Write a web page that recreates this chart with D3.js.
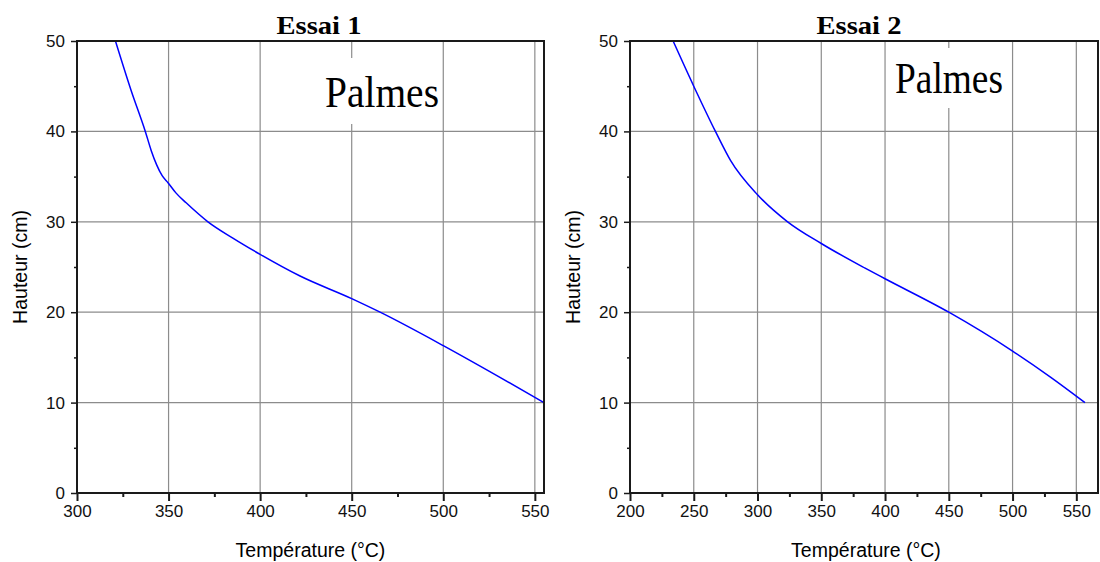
<!DOCTYPE html>
<html>
<head>
<meta charset="utf-8">
<script src="https://cdn.jsdelivr.net/npm/d3@7"></script>
<style>
  body { margin: 0; background: #fff; }
  svg { display: block; }
</style>
</head>
<body>
<svg id="chart" width="1100" height="562"></svg>
<script>
// Essai 1
const temps1 = [321, 329.6, 337.3, 340.5, 343.5, 346.5, 349.8, 354, 359.6, 371.5, 385.1, 400, 421.8, 450, 465.5, 500, 530, 555]
const heights1 = [50, 44.5, 40, 37.9, 36.3, 35.1, 34.3, 33.2, 32.1, 30, 28.2, 26.4, 24.0, 21.5, 20, 16.3, 12.9, 10]
// Essai 2
const temps2 = [233.8, 250, 267, 278.8, 300, 323.6, 350, 384, 400, 450, 500, 530, 556.8]
const heights2 = [50, 45, 40, 36.8, 33, 30, 27.6, 24.9, 23.7, 20, 15.7, 12.8, 10]

const xTicks1 = [300, 350, 400, 450, 500, 550]
const xTicks2 = [200, 250, 300, 350, 400, 450, 500, 550]
const yTicks = [0, 10, 20, 30, 40, 50]
const titles = ['Essai 1', 'Essai 2']
const label = 'Palmes'

const panels = [
    { title: titles[0], temps: temps1, heights: heights1, ticks: xTicks1, domain: [300, 555],
      left: 77, right: 544, titleX: 319, labelX: 325, labelW: 114, boxX: 320, boxY: 58, boxW: 121, boxH: 66, labelY: 107 },
    { title: titles[1], temps: temps2, heights: heights2, ticks: xTicks2, domain: [200, 567],
      left: 630, right: 1098, titleX: 859, labelX: 895, labelW: 108, boxX: 890, boxY: 48, boxW: 118, boxH: 60, labelY: 93 }
]

const plotTop = 41, plotBottom = 493
const tickFont = '17px "Liberation Sans", Arial, sans-serif'
const axisFont = '19.5px "Liberation Sans", Arial, sans-serif'
const svg = d3.select('#chart')

panels.forEach((p, i) => {
    const x = d3.scaleLinear().domain(p.domain).range([p.left, p.right])
    const y = d3.scaleLinear().domain([0, 50]).range([plotBottom, plotTop])
    const g = svg.append('g')

    // grid
    g.append('g').selectAll('line')
        .data(p.ticks.filter(t => t > p.domain[0]))
        .enter().append('line')
        .attr('x1', d => x(d)).attr('x2', d => x(d))
        .attr('y1', plotTop).attr('y2', plotBottom)
        .style('stroke', '#8c8c8c').style('stroke-width', 1.2)
    g.append('g').selectAll('line')
        .data(yTicks.filter(t => t > 0 && t < 50))
        .enter().append('line')
        .attr('x1', p.left).attr('x2', p.right)
        .attr('y1', d => y(d)).attr('y2', d => y(d))
        .style('stroke', '#8c8c8c').style('stroke-width', 1.2)

    // white box behind the label
    g.append('rect')
        .attr('x', p.boxX).attr('y', p.boxY)
        .attr('width', p.boxW).attr('height', p.boxH)
        .style('fill', '#fff')

    // curve
    const clipId = 'clip' + i
    svg.append('clipPath').attr('id', clipId)
        .append('rect').attr('x', p.left).attr('y', plotTop)
        .attr('width', p.right - p.left).attr('height', plotBottom - plotTop)
    const pts = p.temps.map((t, k) => [t, p.heights[k]])
    g.append('path')
        .datum(pts)
        .attr('clip-path', `url(#${clipId})`)
        .attr('d', d3.line().x(d => x(d[0])).y(d => y(d[1])).curve(d3.curveMonotoneX))
        .style('fill', 'none').style('stroke', '#0000ff').style('stroke-width', 1.5)

    // frame
    g.append('rect')
        .attr('x', p.left).attr('y', plotTop)
        .attr('width', p.right - p.left).attr('height', plotBottom - plotTop)
        .style('fill', 'none').style('stroke', '#1a1a1a').style('stroke-width', 2)

    // x axis ticks
    const xMinor = d3.range(p.domain[0] + 25, p.domain[1], 50)
    g.append('g').call(d3.axisBottom(x).tickValues(p.ticks).tickSize(8).tickPadding(4))
        .attr('transform', `translate(0,${plotBottom})`)
        .call(a => a.select('.domain').remove())
        .call(a => a.selectAll('line').style('stroke', '#1a1a1a').style('stroke-width', 2))
        .call(a => a.selectAll('text').style('font', tickFont).style('fill', '#111'))
    g.append('g').call(d3.axisBottom(x).tickValues(xMinor).tickSize(4).tickFormat(''))
        .attr('transform', `translate(0,${plotBottom})`)
        .call(a => a.select('.domain').remove())
        .call(a => a.selectAll('line').style('stroke', '#1a1a1a').style('stroke-width', 2))

    // y axis ticks
    g.append('g').call(d3.axisLeft(y).tickValues(yTicks).tickSize(6).tickPadding(6))
        .attr('transform', `translate(${p.left},0)`)
        .call(a => a.select('.domain').remove())
        .call(a => a.selectAll('line').style('stroke', '#1a1a1a').style('stroke-width', 1.5))
        .call(a => a.selectAll('text').style('font', tickFont).style('fill', '#111'))
    g.append('g').call(d3.axisLeft(y).tickValues(d3.range(5, 50, 10)).tickSize(3).tickFormat(''))
        .attr('transform', `translate(${p.left},0)`)
        .call(a => a.select('.domain').remove())
        .call(a => a.selectAll('line').style('stroke', '#1a1a1a').style('stroke-width', 1.5))

    // title
    g.append('text')
        .attr('x', p.titleX).attr('y', 34)
        .attr('text-anchor', 'middle')
        .attr('textLength', 85).attr('lengthAdjust', 'spacingAndGlyphs')
        .style('font', 'bold 25px "Liberation Serif", "Times New Roman", serif')
        .text(p.title)

    // Palmes label
    g.append('text')
        .attr('x', p.labelX).attr('y', p.labelY)
        .attr('textLength', p.labelW).attr('lengthAdjust', 'spacingAndGlyphs')
        .style('font', '44px "Liberation Serif", "Times New Roman", serif')
        .text(label)

    // axis titles
    g.append('text')
        .attr('x', (p.left + p.right) / 2 + (i === 0 ? 0 : 2)).attr('y', 557)
        .attr('text-anchor', 'middle')
        .style('font', axisFont)
        .text('Température (°C)')
    g.append('text')
        .attr('transform', `translate(${p.left - 50},${(plotTop + plotBottom) / 2}) rotate(-90)`)
        .attr('text-anchor', 'middle')
        .style('font', axisFont)
        .text('Hauteur (cm)')
})
</script>
</body>
</html>
